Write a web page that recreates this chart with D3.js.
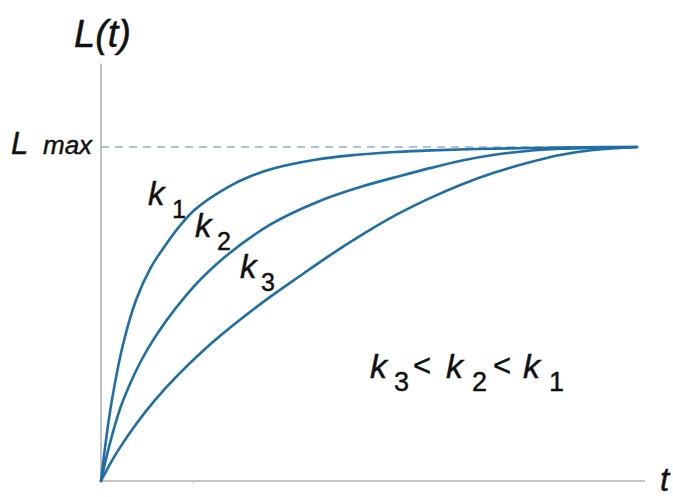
<!DOCTYPE html>
<html>
<head>
<meta charset="utf-8">
<script src="https://cdn.jsdelivr.net/npm/d3@7"></script>
<style>
  html, body { margin: 0; padding: 0; background: #fff; }
  svg { display: block; }
  text { font-family: "Liberation Sans", Arial, sans-serif; fill: #111; stroke: #111; stroke-width: 0.45px; }
</style>
</head>
<body>
<svg id="chart" width="673" height="497"></svg>
<script>
// Saturation curves L(t) for three rate constants, normalised to L / Lmax.
const tK1 = [0, 0.093, 0.20, 0.41, 0.653, 0.933, 1.138, 1.437, 1.754, 2.369, 2.80, 3.246, 4.00, 4.664, 5.50, 6.157, 7.00, 8.022, 9.00, 10];
const lK1 = [0, 0.122, 0.239, 0.408, 0.541, 0.640, 0.691, 0.757, 0.813, 0.880, 0.913, 0.937, 0.962, 0.975, 0.985, 0.990, 0.994, 0.997, 0.999, 1];

const tK2 = [0, 0.187, 0.41, 0.877, 1.604, 2.239, 3.172, 4.104, 4.851, 5.597, 6.157, 6.716, 7.313, 7.948, 8.582, 9.328, 10];
const lK2 = [0, 0.125, 0.240, 0.397, 0.559, 0.661, 0.769, 0.840, 0.881, 0.914, 0.9375, 0.959, 0.976, 0.988, 0.9946, 0.998, 1];

const tK3 = [0, 0.317, 1.007, 1.94, 2.985, 3.731, 4.291, 4.888, 5.522, 6.138, 6.716, 7.313, 7.948, 8.563, 9.179, 10];
const lK3 = [0, 0.091, 0.242, 0.395, 0.531, 0.616, 0.678, 0.739, 0.798, 0.847, 0.887, 0.922, 0.952, 0.976, 0.991, 1];

const lMax = 1;

const svg = d3.select("#chart");
const x = d3.scaleLinear().domain([0, 10]).range([101, 637]);
const y = d3.scaleLinear().domain([0, 1]).range([481, 147]);

const axisColor = "#b3b3b3";
const curveColor = "#1f6ea6";

// axes: plain lines, one faint tick mark on the time axis
const xAxis = d3.axisBottom(x).tickValues([1.7]).tickSize(3).tickFormat("").tickSizeOuter(0);
const gx = svg.append("g").attr("transform", `translate(0,${y(0)})`).call(xAxis);
gx.select(".domain").remove();
gx.selectAll(".tick line").attr("stroke", "#d8d8d8");
svg.append("line")
  .attr("x1", x(0)).attr("x2", x(10.15))
  .attr("y1", y(0)).attr("y2", y(0))
  .attr("stroke", axisColor).attr("stroke-width", 1.6);
svg.append("line")
  .attr("x1", x(0)).attr("x2", x(0))
  .attr("y1", y(0)).attr("y2", y(1.25))
  .attr("stroke", axisColor).attr("stroke-width", 1.6);

// Lmax reference line
svg.append("line")
  .attr("x1", x(0)).attr("x2", x(10))
  .attr("y1", y(lMax)).attr("y2", y(lMax))
  .attr("stroke", "#93b3ca").attr("stroke-width", 1.6)
  .attr("stroke-dasharray", "8,6");

// curves
const line = d3.line()
  .x(d => x(d[0]))
  .y(d => y(d[1]))
  .curve(d3.curveCatmullRom.alpha(0.5));

const series = [
  d3.zip(tK1, lK1),
  d3.zip(tK2, lK2),
  d3.zip(tK3, lK3)
];

svg.selectAll("path.curve")
  .data(series)
  .join("path")
  .attr("class", "curve")
  .attr("d", line)
  .attr("fill", "none")
  .attr("stroke", curveColor)
  .attr("stroke-width", 2.6)
  .attr("stroke-linecap", "round");

// "k" with an upright subscript, each glyph group placed at its own x
function kSub(parent, xk, xs, base, sub, size, subSize) {
  parent.append("tspan").attr("x", xk).attr("y", base)
    .style("font-size", size + "px").style("font-style", "italic").text("k");
  parent.append("tspan").attr("x", xs).attr("y", base + 13)
    .style("font-size", subSize + "px").style("font-style", "normal").text(sub);
}

// L(t)
svg.append("text").attr("x", 74).attr("y", 47)
  .style("font-size", "38px").style("font-style", "italic").text("L(t)");

// Lmax
const lm = svg.append("text").attr("y", 154).style("font-style", "italic");
lm.append("tspan").attr("x", 11).style("font-size", "31px").text("L");
lm.append("tspan").attr("x", 43).style("font-size", "26px").text("max");

// t
svg.append("text").attr("x", 660).attr("y", 491)
  .style("font-size", "33px").style("font-style", "italic").text("t");

// curve names
kSub(svg.append("text"), 148, 172, 205, "1", 33, 25);
kSub(svg.append("text"), 195, 217, 237, "2", 33, 25);
kSub(svg.append("text"), 240, 261, 278, "3", 33, 25);

// ordering of the rate constants
const ord = svg.append("text");
kSub(ord, 370, 394, 378, "3", 34, 27);
ord.append("tspan").attr("x", 413).attr("y", 376).style("font-size", "31px").text("<");
kSub(ord, 446, 472, 378, "2", 34, 27);
ord.append("tspan").attr("x", 493).attr("y", 376).style("font-size", "31px").text("<");
kSub(ord, 523, 549, 378, "1", 34, 27);
</script>
</body>
</html>
